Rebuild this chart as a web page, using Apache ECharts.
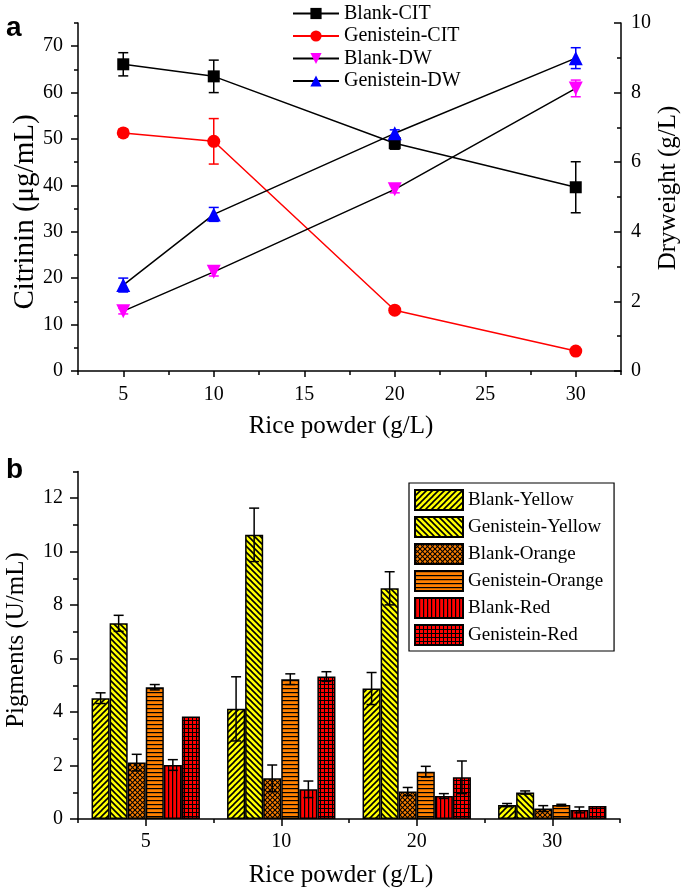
<!DOCTYPE html>
<html><head><meta charset="utf-8">
<script src="https://cdn.jsdelivr.net/npm/echarts@6/dist/echarts.min.js"></script>
<style>html,body{margin:0;padding:0;background:#fff}#c{width:685px;height:890px}</style>
</head><body><div id="c"></div>
<script>
// ---------- Panel a data ----------
const riceX = [5, 10, 20, 30];
const blankCIT = [66.1, 63.5, 49.1, 39.6];
const blankCITErr = [2.5, 3.5, 1.3, 5.5];
const genCIT = [51.3, 49.5, 13.1, 4.3];
const genCITErr = [0.8, 4.9, 0.4, 0.3];
const blankDW = [1.72, 2.85, 5.22, 8.12];
const blankDWErr = [0.08, 0.12, 0.1, 0.24];
const genDW = [2.47, 4.50, 6.83, 8.99];
const genDWErr = [0.2, 0.2, 0.1, 0.3];
const citTicks = [0, 10, 20, 30, 40, 50, 60, 70];
const citMinor = [5, 15, 25, 35, 45, 55, 65, 75];
const riceTicks = [5, 10, 15, 20, 25, 30];
const riceMinor = [2.5, 7.5, 12.5, 17.5, 22.5, 27.5, 32.5];

// ---------- Panel b data ----------
const pigCats = ['5', '10', '20', '30'];
const blankYellow = [4.52, 4.12, 4.88, 0.52];
const blankYellowErr = [0.2, 1.2, 0.6, 0.06];
const genYellow = [7.32, 10.63, 8.63, 0.99];
const genYellowErr = [0.3, 1.0, 0.62, 0.06];
const blankOrange = [2.11, 1.52, 1.03, 0.39];
const blankOrangeErr = [0.31, 0.5, 0.15, 0.11];
const genOrange = [4.93, 5.23, 1.77, 0.52];
const genOrangeErr = [0.1, 0.2, 0.2, 0.03];
const blankRed = [2.02, 1.11, 0.86, 0.34];
const blankRedErr = [0.2, 0.31, 0.09, 0.11];
const genRed = [3.83, 5.33, 1.56, 0.49];
const genRedErr = [0, 0.18, 0.61, 0];
const pigTicks = [0, 2, 4, 6, 8, 10, 12];
const pigMinor = [1, 3, 5, 7, 9, 11, 13];

const SERIF = '"Liberation Serif", "Times New Roman", serif';

function pattern(bg, size, draw) {
  const c = document.createElement('canvas');
  c.width = size; c.height = size;
  const ctx = c.getContext('2d');
  ctx.fillStyle = bg; ctx.fillRect(0, 0, size, size);
  ctx.strokeStyle = '#000'; ctx.fillStyle = '#000';
  draw(ctx, size);
  return { image: c, repeat: 'repeat' };
}
function seg(ctx, x1, y1, x2, y2) { ctx.beginPath(); ctx.moveTo(x1, y1); ctx.lineTo(x2, y2); ctx.stroke(); }
const YEL = '#ffff00', ORA = '#ff8000', RED = '#ff0000';
const patBY = pattern(YEL, 6, (c, s) => { c.lineWidth = 1.6; seg(c, 0, s, s, 0); seg(c, -s/2, s/2, s/2, -s/2); seg(c, s/2, s*1.5, s*1.5, s/2); });
const patGY = pattern(YEL, 6, (c, s) => { c.lineWidth = 1.6; seg(c, 0, 0, s, s); seg(c, -s/2, s/2, s/2, s*1.5); seg(c, s/2, -s/2, s*1.5, s/2); });
const patBO = pattern(ORA, 5, (c, s) => { c.lineWidth = 1.1; seg(c, 0, 0, s, s); seg(c, 0, s, s, 0); seg(c, -s/2, s/2, s/2, s*1.5); seg(c, s/2, -s/2, s*1.5, s/2); seg(c, -s/2, s/2, s/2, -s/2); seg(c, s/2, s*1.5, s*1.5, s/2); });
const patGO = pattern(ORA, 4, (c, s) => { c.fillRect(0, 0, s, 1.2); });
const patBR = pattern(RED, 4, (c, s) => { c.fillRect(0, 0, 1.2, s); });
const patGR = pattern(RED, 4, (c, s) => { c.fillRect(0, 0, s, 1); c.fillRect(0, 0, 1, s); });

function pairs(xs, ys) { return xs.map((x, i) => [x, ys[i]]); }
function triples(xs, ys, es) { return xs.map((x, i) => [x, ys[i], es[i]]); }

function errSeries(data, color, yAxisIndex) {
  return {
    type: 'custom', xAxisIndex: 0, yAxisIndex: yAxisIndex, z: 1, silent: true,
    data: data, encode: { x: 0, y: 1 },
    renderItem: function (params, api) {
      const x = api.value(0), y = api.value(1), e = api.value(2);
      if (!e) return null;
      const t = api.coord([x, y + e]), b = api.coord([x, y - e]);
      const cap = 5, st = { stroke: color, lineWidth: 1.5 };
      return { type: 'group', children: [
        { type: 'line', shape: { x1: t[0], y1: t[1], x2: b[0], y2: b[1] }, style: st },
        { type: 'line', shape: { x1: t[0] - cap, y1: t[1], x2: t[0] + cap, y2: t[1] }, style: st },
        { type: 'line', shape: { x1: b[0] - cap, y1: b[1], x2: b[0] + cap, y2: b[1] }, style: st }
      ] };
    }
  };
}

const barNames = ['Blank-Yellow', 'Genistein-Yellow', 'Blank-Orange', 'Genistein-Orange', 'Blank-Red', 'Genistein-Red'];
const barVals = [blankYellow, genYellow, blankOrange, genOrange, blankRed, genRed];
const barErrs = [blankYellowErr, genYellowErr, blankOrangeErr, genOrangeErr, blankRedErr, genRedErr];
const barPats = [patBY, patGY, patBO, patGO, patBR, patGR];

const barSeries = barNames.map((n, i) => ({
  name: n, type: 'bar', xAxisIndex: 2, yAxisIndex: 3,
  data: barVals[i], barGap: 0, barCategoryGap: '20%',
  itemStyle: { color: barPats[i], borderColor: '#000', borderWidth: 1.5 }
}));
const barErrSeries = barNames.map((n, si) => ({
  type: 'custom', xAxisIndex: 2, yAxisIndex: 3, z: 5, silent: true,
  data: pigCats.map((c, k) => [k, barVals[si][k], barErrs[si][k]]),
  encode: { x: 0, y: 1 },
  renderItem: function (params, api) {
    const k = api.value(0), v = api.value(1), e = api.value(2);
    if (!e) return null;
    const center = api.coord([k, 0])[0];
    const band = api.size([1, 0])[0];
    const total = band * 0.8, bw = total / 6;
    const x = center - total / 2 + bw * (si + 0.5);
    const yt = api.coord([k, v + e])[1], yb = api.coord([k, v - e])[1];
    const cap = 5, st = { stroke: '#000', lineWidth: 1.5 };
    return { type: 'group', children: [
      { type: 'line', shape: { x1: x, y1: yt, x2: x, y2: yb }, style: st },
      { type: 'line', shape: { x1: x - cap, y1: yt, x2: x + cap, y2: yt }, style: st },
      { type: 'line', shape: { x1: x - cap, y1: yb, x2: x + cap, y2: yb }, style: st }
    ] };
  }
}));

const axLine = { show: true, lineStyle: { color: '#000', width: 1.5 } };
const lbl = { color: '#000', fontFamily: SERIF, fontSize: 20 };

const option = {
  animation: false,
  backgroundColor: '#fff',
  grid: [
    { left: 78, right: 64, top: 23, height: 348 },
    { left: 78, right: 65, top: 471.5, height: 347.5 }
  ],
  legend: [
    { data: ['Blank-CIT', 'Genistein-CIT', 'Blank-DW', 'Genistein-DW'], orient: 'vertical',
      left: 292, top: 3.5, padding: 0, itemWidth: 46, itemHeight: 14, itemGap: 2.5,
      textStyle: { color: '#000', fontFamily: SERIF, fontSize: 20 } },
    { data: barNames, orient: 'vertical', left: 409, top: 483, padding: [6, 11, 5, 5],
      itemWidth: 48, itemHeight: 20, itemGap: 5, icon: 'rect',
      borderColor: '#000', borderWidth: 1.2,
      textStyle: { color: '#000', fontFamily: SERIF, fontSize: 19 } }
  ],
  xAxis: [
    { type: 'value', gridIndex: 0, min: 2.5, max: 32.5, position: 'bottom',
      axisLine: axLine, splitLine: { show: false },
      axisTick: { show: true, length: 6, customValues: riceTicks, lineStyle: { color: '#000', width: 1.5 } },
      axisLabel: Object.assign({ customValues: riceTicks, margin: 14 }, lbl) },
    { type: 'value', gridIndex: 0, min: 2.5, max: 32.5, position: 'bottom',
      axisLine: { show: false }, splitLine: { show: false }, axisLabel: { show: false },
      axisTick: { show: true, length: 4, customValues: riceMinor, lineStyle: { color: '#000', width: 1.5 } } },
    { type: 'category', gridIndex: 1, data: pigCats, position: 'bottom',
      axisLine: axLine,
      axisTick: { show: true, length: 4, lineStyle: { color: '#000', width: 1.5 } },
      axisLabel: Object.assign({ margin: 13 }, lbl) },
    { type: 'category', gridIndex: 1, data: pigCats, position: 'bottom',
      axisLine: { show: false }, axisLabel: { show: false },
      axisTick: { show: true, alignWithLabel: true, length: 7, lineStyle: { color: '#000', width: 1.5 } } }
  ],
  yAxis: [
    { type: 'value', gridIndex: 0, min: 0, max: 75, position: 'left',
      axisLine: axLine, splitLine: { show: false },
      axisTick: { show: true, length: 7, customValues: citTicks, lineStyle: { color: '#000', width: 1.5 } },
      axisLabel: Object.assign({ customValues: citTicks, margin: 15 }, lbl) },
    { type: 'value', gridIndex: 0, min: 0, max: 75, position: 'left',
      axisLine: { show: false }, splitLine: { show: false }, axisLabel: { show: false },
      axisTick: { show: true, length: 4, customValues: citMinor, lineStyle: { color: '#000', width: 1.5 } } },
    { type: 'value', gridIndex: 0, min: 0, max: 10, interval: 2, position: 'right',
      axisLine: axLine, splitLine: { show: false },
      axisTick: { show: true, inside: true, length: 7, lineStyle: { color: '#000', width: 1.5 } },
      minorTick: { show: true, splitNumber: 2, length: 4, lineStyle: { color: '#000', width: 1.5 } },
      minorSplitLine: { show: false },
      axisLabel: Object.assign({ margin: 10 }, lbl) },
    { type: 'value', gridIndex: 1, min: 0, max: 13, position: 'left',
      axisLine: axLine, splitLine: { show: false },
      axisTick: { show: true, length: 8, customValues: pigTicks, lineStyle: { color: '#000', width: 1.5 } },
      axisLabel: Object.assign({ customValues: pigTicks, margin: 15 }, lbl) },
    { type: 'value', gridIndex: 1, min: 0, max: 13, position: 'left',
      axisLine: { show: false }, splitLine: { show: false }, axisLabel: { show: false },
      axisTick: { show: true, length: 5, customValues: pigMinor, lineStyle: { color: '#000', width: 1.5 } } }
  ],
  graphic: [
    { type: 'text', x: 6, y: 28, style: { text: 'a', font: 'bold 28px "Liberation Sans", Arial, sans-serif', fill: '#000', align: 'left', verticalAlign: 'middle' } },
    { type: 'text', x: 6, y: 470, style: { text: 'b', font: 'bold 28px "Liberation Sans", Arial, sans-serif', fill: '#000', align: 'left', verticalAlign: 'middle' } },
    { type: 'text', x: 341, y: 426, style: { text: 'Rice powder (g/L)', font: '25px ' + SERIF, fill: '#000', align: 'center', verticalAlign: 'middle' } },
    { type: 'text', x: 341, y: 875, style: { text: 'Rice powder (g/L)', font: '25px ' + SERIF, fill: '#000', align: 'center', verticalAlign: 'middle' } },
    { type: 'text', x: 25, y: 212, rotation: Math.PI / 2, style: { text: 'Citrinin (μg/mL)', font: '29px ' + SERIF, fill: '#000', align: 'center', verticalAlign: 'middle' } },
    { type: 'text', x: 668, y: 188, rotation: Math.PI / 2, style: { text: 'Dryweight (g/L)', font: '25px ' + SERIF, fill: '#000', align: 'center', verticalAlign: 'middle' } },
    { type: 'text', x: 16, y: 640, rotation: Math.PI / 2, style: { text: 'Pigments (U/mL)', font: '25px ' + SERIF, fill: '#000', align: 'center', verticalAlign: 'middle' } }
  ],
  series: [
    errSeries(triples(riceX, blankCIT, blankCITErr), '#000', 0),
    errSeries(triples(riceX, genCIT, genCITErr), '#ff0000', 0),
    errSeries(triples(riceX, blankDW, blankDWErr), '#ff00ff', 2),
    errSeries(triples(riceX, genDW, genDWErr), '#0000ff', 2),
    { name: 'Blank-CIT', type: 'line', xAxisIndex: 0, yAxisIndex: 0, data: pairs(riceX, blankCIT),
      symbol: 'rect', symbolSize: 12, z: 3,
      lineStyle: { color: '#000', width: 1.5 }, itemStyle: { color: '#000' } },
    { name: 'Genistein-CIT', type: 'line', xAxisIndex: 0, yAxisIndex: 0, data: pairs(riceX, genCIT),
      symbol: 'circle', symbolSize: 13, z: 3,
      lineStyle: { color: '#ff0000', width: 1.5 }, itemStyle: { color: '#ff0000' } },
    { name: 'Blank-DW', type: 'line', xAxisIndex: 0, yAxisIndex: 2, data: pairs(riceX, blankDW),
      symbol: 'triangle', symbolRotate: 180, symbolSize: 14, z: 3,
      lineStyle: { color: '#000', width: 1.5 }, itemStyle: { color: '#ff00ff' } },
    { name: 'Genistein-DW', type: 'line', xAxisIndex: 0, yAxisIndex: 2, data: pairs(riceX, genDW),
      symbol: 'triangle', symbolSize: 14, z: 3,
      lineStyle: { color: '#000', width: 1.5 }, itemStyle: { color: '#0000ff' } }
  ].concat(barSeries).concat(barErrSeries)
};

const chart = echarts.init(document.getElementById('c'), null, { renderer: 'canvas' });
chart.setOption(option);
</script>
</body></html>
